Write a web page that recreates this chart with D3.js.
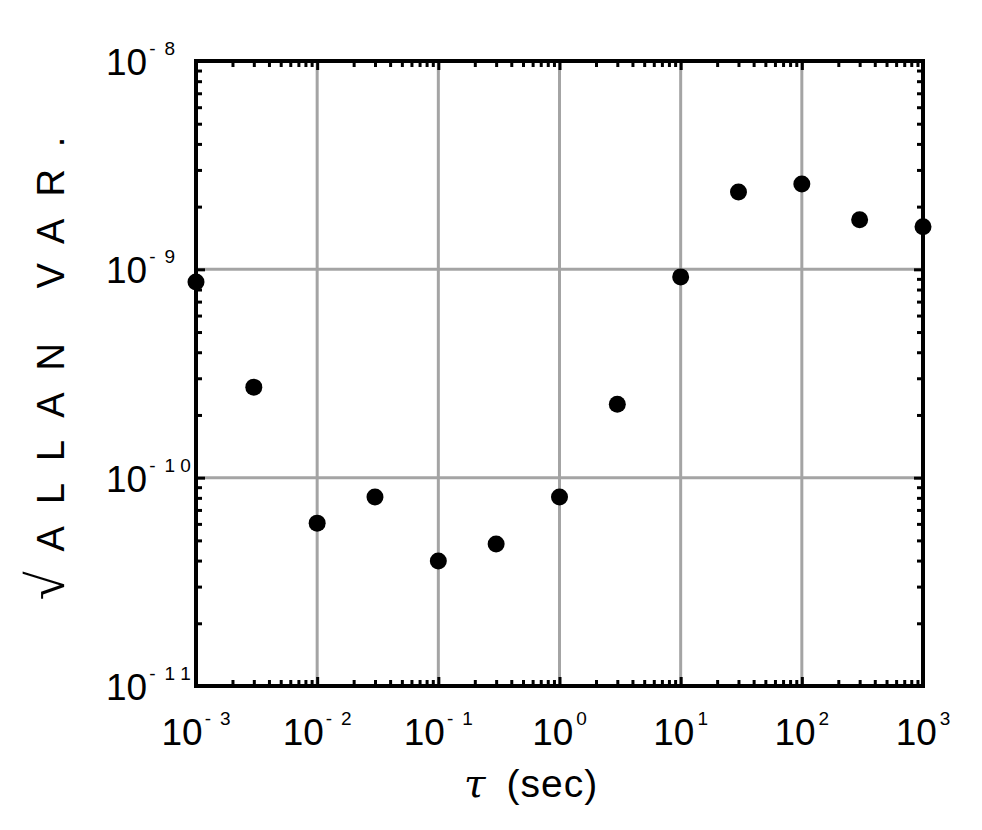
<!DOCTYPE html>
<html><head><meta charset="utf-8">
<script src="https://cdn.jsdelivr.net/npm/d3@7"></script>
<style>
body{margin:0;background:#fff;}
text{font-family:"Liberation Sans",Arial,Helvetica,sans-serif;fill:#000;}
</style></head>
<body>
<svg id="chart" width="982" height="830"></svg>
<script>
const tau = [1e-3, 3e-3, 1e-2, 3e-2, 1e-1, 3e-1, 1, 3, 10, 30, 100, 300, 1000];
const allanDev = [8.7e-10, 2.72e-10, 6.05e-11, 8.07e-11, 3.98e-11, 4.8e-11, 8.07e-11, 2.25e-10, 9.2e-10, 2.35e-9, 2.57e-9, 1.73e-9, 1.6e-9];
const xTickExp = [-3, -2, -1, 0, 1, 2, 3];
const yTickExp = [-11, -10, -9, -8];
const xTitle = "(sec)";
const yTitleRoot = "√";
const yTitle = "ALLAN VAR.";

const svg = d3.select("#chart");
const L = 196, R = 923, T = 61, B = 686;
const x = d3.scaleLog().domain([1e-3, 1e3]).range([L, R]);
const y = d3.scaleLog().domain([1e-11, 1e-8]).range([B, T]);

const xMajor = xTickExp.map(e => Math.pow(10, e));
const yMajor = yTickExp.map(e => Math.pow(10, e));
const minors = (dom) => {
  const out = [];
  const lo = Math.round(Math.log10(dom[0])), hi = Math.round(Math.log10(dom[1]));
  for (let e = lo; e < hi; e++) for (let m = 2; m <= 9; m++) out.push(m * Math.pow(10, e));
  return out;
};
const xMinor = minors(x.domain()), yMinor = minors(y.domain());

// grid
const grid = svg.append("g").attr("stroke", "#a4a4a4").attr("stroke-width", 3);
grid.selectAll(".gx").data(xMajor.slice(1, -1)).join("line")
  .attr("x1", d => x(d)).attr("x2", d => x(d)).attr("y1", T).attr("y2", B);
grid.selectAll(".gy").data(yMajor.slice(1, -1)).join("line")
  .attr("y1", d => y(d)).attr("y2", d => y(d)).attr("x1", L).attr("x2", R);

// ticks (inward) via d3 axes
function styleAxis(g) {
  g.select(".domain").remove();
  g.selectAll(".tick line").attr("stroke", "#000").attr("stroke-width", 3);
  g.selectAll(".tick text").remove();
}
const addAxis = (axisFn, scale, vals, size, tr) => {
  svg.append("g").attr("transform", tr)
    .call(axisFn(scale).tickValues(vals).tickSize(size).tickFormat(""))
    .call(styleAxis);
};
addAxis(d3.axisBottom, x, xMinor, -6, `translate(0,${B})`);
addAxis(d3.axisBottom, x, xMajor, -9, `translate(0,${B})`);
addAxis(d3.axisTop, x, xMinor, -6, `translate(0,${T})`);
addAxis(d3.axisTop, x, xMajor, -9, `translate(0,${T})`);
addAxis(d3.axisLeft, y, yMinor, -6, `translate(${L},0)`);
addAxis(d3.axisLeft, y, yMajor, -9, `translate(${L},0)`);
addAxis(d3.axisRight, y, yMinor, -6, `translate(${R},0)`);
addAxis(d3.axisRight, y, yMajor, -9, `translate(${R},0)`);

// frame
svg.append("rect").attr("x", L).attr("y", T).attr("width", R - L).attr("height", B - T)
  .attr("fill", "none").attr("stroke", "#000").attr("stroke-width", 4);

// tick labels
function sup(t, e) {
  t.append("tspan").text("10");
  const neg = e < 0;
  const digits = String(Math.abs(e)).split("").join(" ");
  if (neg) {
    t.append("tspan").attr("font-size", 19).attr("dy", -20).attr("dx", 2).text("-");
    t.append("tspan").attr("font-size", 19).attr("dx", 9).text(digits);
  } else {
    t.append("tspan").attr("font-size", 19).attr("dy", -20).attr("dx", 3).text(digits);
  }
}
svg.selectAll(".xl").data(xTickExp).join("text")
  .attr("x", d => x(Math.pow(10, d))).attr("y", 745)
  .attr("text-anchor", "middle").attr("font-size", 37)
  .each(function (d) { sup(d3.select(this), d); });
svg.selectAll(".yl").data(yTickExp).join("text")
  .attr("x", 106).attr("y", d => y(Math.pow(10, d)) + 14)
  .attr("text-anchor", "start").attr("font-size", 37)
  .each(function (d) { sup(d3.select(this), d); });

// data points
svg.append("g").selectAll("circle").data(tau.map((t, i) => [t, allanDev[i]])).join("circle")
  .attr("cx", d => x(d[0])).attr("cy", d => y(d[1])).attr("r", 8.5).attr("fill", "#000");

// axis titles
const xt = svg.append("text").attr("x", 464).attr("y", 797).attr("font-size", 39).attr("letter-spacing", 1);
xt.append("tspan").attr("font-family", "DejaVu Serif").attr("font-style", "italic").text("τ");
xt.append("tspan").attr("dx", 20).text(xTitle);

const yt = svg.append("text").attr("transform", "translate(64,600) rotate(-90)")
  .attr("text-anchor", "start").attr("font-size", 38);
yt.append("tspan").attr("font-size", 52).attr("font-family", "DejaVu Sans").attr("font-weight", "300").text(yTitleRoot);
yt.append("tspan").attr("dx", 20).attr("letter-spacing", 22).text(yTitle);
</script>
</body></html>
